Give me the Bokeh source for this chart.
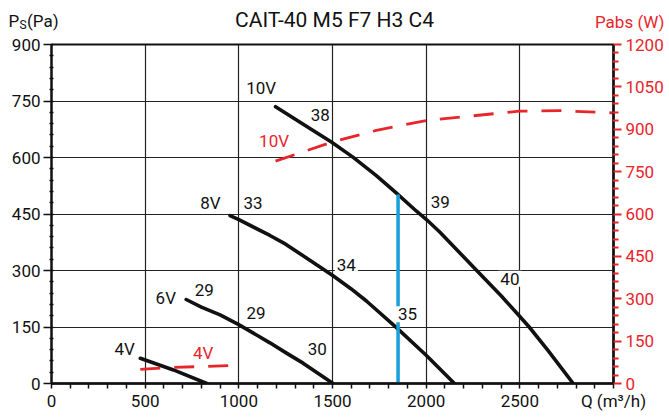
from bokeh.plotting import figure
from bokeh.models import Range1d, LinearAxis, FixedTicker, Label
from bokeh.layouts import column
from bokeh.core.properties import value
from bokeh.embed import file_html
from bokeh.resources import INLINE

# ---------------- data ----------------
title_text = "CAIT-40 M5 F7 H3 C4"

# static pressure curves Ps (Pa) vs Q (m3/h)
q_10v = [1196, 1350, 1494, 1609, 1734, 1840, 1947, 2000, 2071, 2266, 2400, 2500, 2550, 2650, 2785]
p_10v = [735, 686, 641, 601, 552, 506, 458, 436, 403, 302, 233, 178, 150, 88, 0]

q_8v = [953, 1000, 1166, 1250, 1343, 1503, 1600, 1681, 1840, 2000, 2151]
p_8v = [446, 435, 393, 370, 339, 286, 251, 219, 149, 75, 0]

q_6v = [719, 800, 900, 997, 1166, 1250, 1343, 1503]
p_6v = [223, 203, 182, 157, 108, 82, 54, 0]

q_4v = [474, 651, 829]
p_4v = [67, 36, 0]

# absorbed power Pabs (W) vs Q
q_w10v = [1196, 1494, 1734, 2000, 2497, 2710, 2993]
w_10v = [787, 854, 896, 931, 964, 966, 958]

q_w4v = [474, 651, 995]
w_4v = [50, 57, 64]

# operating point (blue line)
op_q = 1850
op_p = 502

# ticks
x_ticks = [0, 500, 1000, 1500, 2000, 2500, 3000]
x_tick_labels = {3000: "Q (m\u00b3/h)"}
y_ticks = [0, 150, 300, 450, 600, 750, 900]
w_ticks = [0, 150, 300, 450, 600, 750, 900, 1050, 1200]

# curve annotations: text, Q, Ps
black_labels = [
    ("10V", 1119, 785), ("38", 1435, 713), ("8V", 848, 478), ("33", 1076, 478),
    ("39", 2075, 482), ("6V", 610, 226), ("29", 816, 248), ("29", 1092, 188),
    ("30", 1419, 91), ("4V", 391, 91),
]
boxed_labels = [("34", 1574, 314), ("40", 2447, 278), ("35", 1900, 184)]
red_labels = [("10V", 1188, 644), ("4V", 810, 82)]

# ---------------- styles ----------------
FONT = "Roboto"
BLACK = "#111111"
RED = "#e8252b"
BLUE = "#199fdc"
W = 666
HEAD_H = 32
MAIN_H = 382

# ---------------- header (titles above the frame) ----------------
head = figure(width=W, height=HEAD_H, output_backend="svg", toolbar_location=None,
              title=None, x_range=Range1d(0, W), y_range=Range1d(0, HEAD_H),
              x_axis_type=None, y_axis_type=None,
              min_border_left=0, min_border_right=0, min_border_top=0, min_border_bottom=0,
              background_fill_color="white", border_fill_color="white")
head.frame_align = False
head.outline_line_color = None
head.text(x=[8], y=[12], text=["P"], text_font=value(FONT), text_font_size="17px",
          text_align="left", text_baseline="middle", text_color=BLACK)
head.text(x=[19], y=[7.5], text=["S"], text_font=value(FONT), text_font_size="12px",
          text_align="left", text_baseline="middle", text_color=BLACK)
head.text(x=[26.5], y=[12], text=["(Pa)"], text_font=value(FONT), text_font_size="17px",
          text_align="left", text_baseline="middle", text_color=BLACK)
head.text(x=[334], y=[13], text=[title_text], text_font=value(FONT), text_font_size="21px",
          text_align="center", text_baseline="middle", text_color=BLACK)
head.text(x=[664], y=[11], text=["Pabs (W)"], text_font=value(FONT), text_font_size="17px",
          text_align="right", text_baseline="middle", text_color=RED)

# ---------------- main chart ----------------
p = figure(width=W, height=MAIN_H, output_backend="svg", toolbar_location=None,
           title=None, x_range=Range1d(0, 3000), y_range=Range1d(0, 900),
           min_border_left=51, min_border_right=W - 615, min_border_top=12,
           min_border_bottom=31, background_fill_color="white",
           border_fill_color="white")
p.frame_align = False
p.outline_line_color = BLACK
p.outline_line_width = 2

p.extra_y_ranges = {"w": Range1d(0, 1200)}

# grids
p.xgrid.grid_line_color = "#222222"
p.ygrid.grid_line_color = "#222222"
p.xgrid.grid_line_width = 1.2
p.ygrid.grid_line_width = 1.2

# x axis
xa = p.xaxis[0]
xa.ticker = FixedTicker(ticks=x_ticks, minor_ticks=[v for v in range(100, 3000, 100) if v % 500])
xa.major_label_overrides = x_tick_labels
xa.axis_line_color = BLACK
xa.axis_line_width = 2.5
xa.major_tick_line_color = BLACK
xa.minor_tick_line_color = BLACK
xa.major_tick_line_width = 1.5
xa.minor_tick_line_width = 1.5
xa.major_tick_out = 5
xa.major_tick_in = 0
xa.minor_tick_out = 5
xa.minor_tick_in = 0
xa.major_label_standoff = 2
xa.major_label_text_font = FONT
xa.major_label_text_font_size = "17px"
xa.major_label_text_color = BLACK

# left axis
ya = p.yaxis[0]
ya.ticker = FixedTicker(ticks=y_ticks, minor_ticks=[v for v in range(30, 900, 30) if v % 150])
ya.axis_line_color = BLACK
ya.axis_line_width = 2
ya.major_tick_line_color = BLACK
ya.minor_tick_line_color = BLACK
ya.major_tick_line_width = 1.5
ya.minor_tick_line_width = 1.5
ya.major_tick_out = 8
ya.major_tick_in = 2
ya.minor_tick_out = 2
ya.minor_tick_in = 2
ya.major_label_standoff = 3
ya.major_label_text_font = FONT
ya.major_label_text_font_size = "17px"
ya.major_label_text_color = BLACK

# right axis (absorbed power)
ra = LinearAxis(y_range_name="w",
                ticker=FixedTicker(ticks=w_ticks, minor_ticks=[v for v in range(30, 1200, 30) if v % 150]))
ra.axis_line_color = BLACK
ra.axis_line_width = 2.5
ra.major_tick_line_color = RED
ra.minor_tick_line_color = RED
ra.major_tick_line_width = 2
ra.minor_tick_line_width = 2
ra.major_tick_out = 8
ra.major_tick_in = 0
ra.minor_tick_out = 5
ra.minor_tick_in = 1
ra.major_label_standoff = 4
ra.major_label_text_font = FONT
ra.major_label_text_font_size = "17px"
ra.major_label_text_color = RED
p.add_layout(ra, "right")

# pressure curves
for qs, ps in [(q_10v, p_10v), (q_8v, p_8v), (q_6v, p_6v), (q_4v, p_4v)]:
    p.line(qs, ps, line_color=BLACK, line_width=3.6, line_cap="round", line_join="round")

# power curves
for qs, ws in [(q_w10v, w_10v), (q_w4v, w_4v)]:
    p.line(qs, ws, y_range_name="w", line_color=RED, line_width=2.8, line_dash="20 14")

# operating point line
p.segment(x0=[op_q], y0=[0], x1=[op_q], y1=[op_p], line_color=BLUE, line_width=3.5)

# curve labels
for t, qx, py in black_labels:
    p.add_layout(Label(x=qx, y=py, text=t, text_align="center", text_baseline="middle",
                       text_font=FONT, text_font_size="17px", text_color=BLACK))
for t, qx, py in boxed_labels:
    p.add_layout(Label(x=qx, y=py, text=t, text_align="center", text_baseline="middle",
                       text_font=FONT, text_font_size="17px", text_color=BLACK,
                       background_fill_color="white", padding=2))
for t, qx, py in red_labels:
    p.add_layout(Label(x=qx, y=py, text=t, text_align="center", text_baseline="middle",
                       text_font=FONT, text_font_size="17px", text_color=RED))

layout = column(head, p, spacing=0)
open("out.html", "w").write(file_html(layout, INLINE))
